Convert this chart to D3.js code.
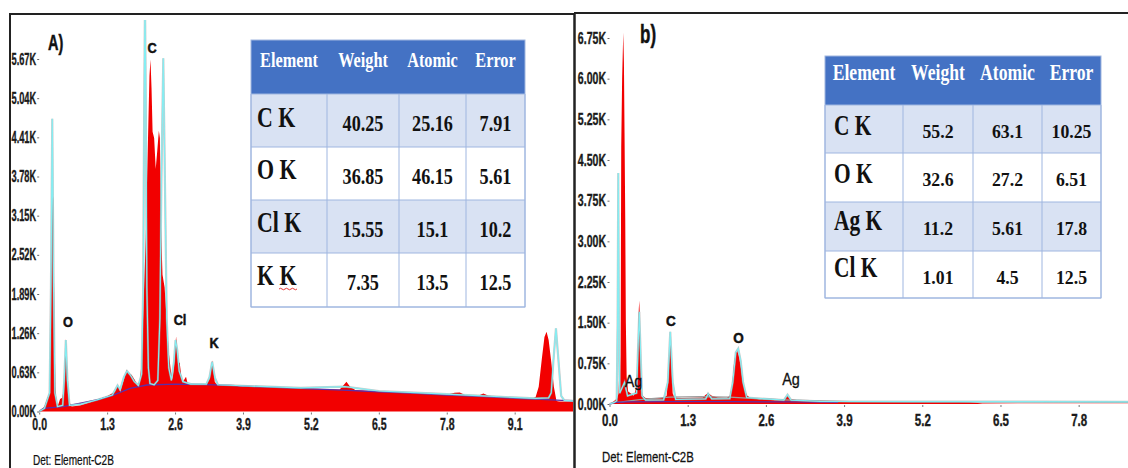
<!DOCTYPE html>
<html><head><meta charset="utf-8">
<script src="https://cdn.jsdelivr.net/npm/d3@7"></script>
<style>
html,body{margin:0;padding:0;background:#fff;}
svg{display:block;}
</style></head><body>
<svg id="c" width="1128" height="468"></svg>
<script>
// ---------------- DATA ----------------
const xTicksA = [0, 1.3, 2.6, 3.9, 5.2, 6.5, 7.8, 9.1];
const xLabelsA = ["0.0","1.3","2.6","3.9","5.2","6.5","7.8","9.1"];
const yTicksA = [0, 630, 1260, 1890, 2520, 3150, 3780, 4410, 5040, 5670];
const yLabelsA = ["0.00K","0.63K","1.26K","1.89K","2.52K","3.15K","3.78K","4.41K","5.04K","5.67K"];

const xTicksB = [0, 1.3, 2.6, 3.9, 5.2, 6.5, 7.8];
const xLabelsB = ["0.0","1.3","2.6","3.9","5.2","6.5","7.8"];
const yTicksB = [0, 750, 1500, 2250, 3000, 3750, 4500, 5250, 6000, 6750];
const yLabelsB = ["0.00K","0.75K","1.50K","2.25K","3.00K","3.75K","4.50K","5.25K","6.00K","6.75K"];

// spectrum A: [energy keV, counts]
const specA = [[0,0],[0.05,30],[0.10,80],[0.15,200],[0.20,300],[0.225,1800],[0.25,3630],[0.27,3400],[0.29,1500],[0.31,400],[0.33,150],[0.36,100],[0.40,200],[0.44,220],[0.47,350],[0.49,800],[0.51,1176],[0.53,800],[0.55,400],[0.58,150],[0.62,80],[0.78,95],[0.95,140],[1.10,185],[1.29,240],[1.45,318],[1.50,426],[1.55,318],[1.63,533],[1.67,667],[1.72,614],[1.77,587],[1.83,506],[1.88,410],[1.93,506],[1.96,800],[2.00,1800],[2.04,2800],[2.08,4300],[2.11,5400],[2.13,5660],[2.15,5200],[2.17,4500],[2.20,4400],[2.23,3900],[2.26,4200],[2.29,4515],[2.31,4400],[2.33,3000],[2.36,2200],[2.40,2000],[2.44,1470],[2.48,950],[2.52,650],[2.55,520],[2.58,700],[2.60,1000],[2.62,1205],[2.64,1000],[2.66,800],[2.69,780],[2.72,560],[2.75,470],[2.78,520],[2.81,560],[2.84,450],[2.90,440],[3.00,430],[3.10,425],[3.20,435],[3.26,520],[3.29,700],[3.31,820],[3.33,700],[3.36,480],[3.40,430],[3.50,420],[3.65,426],[3.90,400],[4.30,395],[4.60,390],[5.00,375],[5.40,360],[5.75,355],[5.82,420],[5.88,480],[5.95,400],[6.05,345],[6.50,318],[7.00,300],[7.50,280],[7.80,268],[7.95,300],[8.05,305],[8.15,265],[8.40,255],[8.50,290],[8.60,255],[8.90,235],[9.20,215],[9.40,200],[9.50,230],[9.56,400],[9.62,850],[9.67,1200],[9.71,1283],[9.75,1150],[9.80,800],[9.85,400],[9.90,170],[9.95,160],[10.25,155]];
// fitted spectrum A (cyan)
const fitA = [[0,0],[0.10,50],[0.20,300],[0.225,2000],[0.25,4710],[0.275,2000],[0.30,300],[0.35,80],[0.45,100],[0.48,500],[0.51,1150],[0.54,500],[0.58,100],[0.80,120],[1.10,185],[1.40,265],[1.50,420],[1.55,350],[1.62,550],[1.68,650],[1.75,580],[1.82,480],[1.90,420],[1.96,600],[1.99,2000],[2.01,5000],[2.025,6600],[2.04,5000],[2.06,2000],[2.09,700],[2.12,450],[2.20,430],[2.27,500],[2.31,1500],[2.34,3800],[2.375,5680],[2.405,3800],[2.44,1500],[2.48,700],[2.53,500],[2.58,800],[2.61,1150],[2.64,1000],[2.68,650],[2.75,480],[2.90,440],[3.20,440],[3.26,550],[3.31,800],[3.36,550],[3.42,430],[4.00,410],[5.00,380],[5.85,400],[6.50,330],[7.50,290],[8.50,250],[9.50,210],[9.75,220],[9.80,300],[9.84,800],[9.89,1337],[9.94,800],[9.99,250],[10.05,180],[10.25,170]];
// background A (purple)
const bgA = [[0,0],[0.08,50],[0.46,77],[1.10,185],[1.42,265],[1.74,373],[2.06,426],[2.60,440],[3.20,432],[3.65,420],[4.30,395],[5.20,365],[5.80,345],[6.50,318],[7.20,292],[7.80,265],[8.50,240],[9.20,208],[9.60,195],[10.00,180],[10.25,172]];

// spectrum B
const specB = [[0,0],[0.06,40],[0.10,80],[0.13,100],[0.15,200],[0.163,600],[0.175,250],[0.185,900],[0.195,4745],[0.21,6000],[0.229,6850],[0.24,6300],[0.25,5000],[0.262,3400],[0.272,1500],[0.285,500],[0.31,230],[0.35,200],[0.40,150],[0.42,200],[0.44,300],[0.46,600],[0.475,1200],[0.487,1750],[0.495,1907],[0.505,1600],[0.515,900],[0.53,300],[0.55,150],[0.60,110],[0.70,100],[0.80,105],[0.90,110],[0.95,150],[0.98,500],[1.00,1000],[1.015,1180],[1.03,700],[1.05,200],[1.08,115],[1.20,110],[1.40,115],[1.55,120],[1.60,170],[1.64,200],[1.70,150],[1.80,120],[1.95,110],[2.00,150],[2.04,350],[2.07,750],[2.10,960],[2.12,996],[2.15,880],[2.18,700],[2.21,450],[2.25,250],[2.29,150],[2.35,110],[2.50,85],[2.60,80],[2.75,70],[2.90,75],[2.95,150],[3.00,90],[3.20,60],[3.50,50],[4.00,45],[4.50,42],[5.00,40],[5.50,38],[5.70,50],[5.80,36],[6.00,30],[6.20,8],[7.00,5],[8.70,4]];
const fitB = [[0,0],[0.08,30],[0.12,60],[0.135,1500],[0.146,4260],[0.157,1500],[0.17,200],[0.25,400],[0.30,150],[0.45,200],[0.495,1700],[0.54,150],[0.60,70],[0.90,75],[0.97,400],[1.01,1333],[1.05,400],[1.10,85],[1.60,95],[1.64,190],[1.70,95],[2.00,100],[2.05,400],[2.10,950],[2.14,1020],[2.18,800],[2.22,400],[2.28,120],[2.90,70],[2.96,170],[3.02,70],[3.50,50],[5.00,45],[7.00,42],[8.70,40]];
const grayB = [[0.10,30],[0.20,40],[0.50,80],[1.00,125],[1.50,135],[2.00,125],[2.50,95],[3.00,70],[4.00,45],[6.00,40],[8.70,35]];
const bgB = [[0,0],[0.10,30],[0.30,40],[1.00,45],[2.00,42],[3.00,38],[3.80,30]];

// peak labels [text, energy, counts]
const peakLabelsA = [["O",0.551,1440],["C",2.159,5847],["Cl",2.695,1472],["K",3.345,1102]];
const peakLabelsB = [["Ag",0.399,424],["C",1.022,1531],["O",2.145,1226],["Ag",3.017,452]];

// tables
const tableHeader = ["Element","Weight","Atomic","Error"];
const tableA = [["C K","40.25","25.16","7.91"],["O K","36.85","46.15","5.61"],["Cl K","15.55","15.1","10.2"],["K K","7.35","13.5","12.5"]];
const tableB = [["C K","55.2","63.1","10.25"],["O K","32.6","27.2","6.51"],["Ag K","11.2","5.61","17.8"],["Cl K","1.01","4.5","12.5"]];

// ---------------- DRAW ----------------
const svg = d3.select("#c");
const defs = svg.append("defs");

const RED = "#f20000", CYAN = "#84eef3", GRAY = "#9c9c9c", PURPLE = "#5b2fa8";
const SANS = "'Liberation Sans', Arial, sans-serif";

function panel(cfg) {
  const x = d3.scaleLinear().domain(cfg.xDom).range(cfg.xRange);
  const y = d3.scaleLinear().domain(cfg.yDom).range(cfg.yRange);
  const clipId = "clip" + cfg.id;
  defs.append("clipPath").attr("id", clipId).append("rect")
    .attr("x", cfg.xRange[0]).attr("y", cfg.plotTop)
    .attr("width", cfg.plotRight - cfg.xRange[0]).attr("height", cfg.yRange[0] - cfg.plotTop + 1);
  const g = svg.append("g");
  const pg = g.append("g").attr("clip-path", `url(#${clipId})`);
  const area = d3.area().x(d => x(d[0])).y0(y(0)).y1(d => y(d[1]));
  const line = d3.line().x(d => x(d[0])).y(d => y(d[1]));
  pg.append("path").datum(cfg.spec).attr("d", area).attr("fill", RED);
  if (cfg.gray) pg.append("path").datum(cfg.gray).attr("d", line).attr("fill","none").attr("stroke", GRAY).attr("stroke-width", 1.3);
  pg.append("path").datum(cfg.bg).attr("d", line).attr("fill","none").attr("stroke", PURPLE).attr("stroke-width", 1.3);
  pg.append("path").datum(cfg.fit).attr("d", line).attr("fill","none").attr("stroke", GRAY).attr("stroke-width", 2.2).attr("stroke-opacity",0.55);
  pg.append("path").datum(cfg.fit).attr("d", line).attr("fill","none").attr("stroke", CYAN).attr("stroke-width", 1.2);

  // y axis
  const ya = g.append("g").attr("transform", `translate(${cfg.xRange[0]},0)`)
    .call(d3.axisLeft(y).tickValues(cfg.yTicks).tickFormat((d,i) => cfg.yLabels[i]).tickSize(2).tickPadding(1));
  ya.select(".domain").remove();
  ya.selectAll("line").attr("stroke", "#666");
  ya.selectAll("text").attr("font-family", SANS)
    .attr("font-size", 16).attr("font-weight", "bold").attr("fill", "#1a1a1a")
    .attr("stroke", "#1a1a1a").attr("stroke-width", 0.35)
    .attr("transform", `scale(${cfg.sx},1)`).attr("x", cfg.yLabX / cfg.sx);
  // x axis
  const xa = g.append("g").attr("transform", `translate(0,${cfg.yRange[0]})`)
    .call(d3.axisBottom(x).tickValues(cfg.xTicks).tickFormat((d,i) => cfg.xLabels[i]).tickSize(2).tickPadding(cfg.xPad));
  xa.select(".domain").remove();
  xa.selectAll("line").attr("stroke", "#777").attr("transform","translate(0,1)");
  xa.selectAll("text").attr("font-family", SANS)
    .attr("font-size", 16).attr("font-weight", "bold").attr("fill", "#1a1a1a")
    .attr("stroke", "#1a1a1a").attr("stroke-width", 0.35)
    .attr("transform", `scale(${cfg.xsx},1)`);

  // peak labels
  cfg.peaks.forEach(p => {
    const bold = p[0] !== "Ag";
    g.append("text").attr("transform", `translate(${x(p[1])},${y(p[2])}) scale(${cfg.lsx},1)`)
      .attr("text-anchor","middle").attr("dy","0.36em")
      .attr("font-family", SANS).attr("font-size", bold ? 15 : 16)
      .attr("font-weight", bold ? "bold" : "normal").attr("fill","#111")
      .attr("stroke", "#111").attr("stroke-width", bold ? 0.5 : 0.3).text(p[0]);
  });
  return {x, y, g};
}

panel({id:"A", xDom:[0,10.25], xRange:[39.2, 39.2 + 10.25*52.25], plotRight:573, plotTop:20,
  yDom:[0,5670], yRange:[411.5,59], spec:specA, fit:fitA, bg:bgA, gray:null,
  yTicks:yTicksA, yLabels:yLabelsA, xTicks:xTicksA, xLabels:xLabelsA, sx:0.58, xsx:0.66, yLabX:-3, xPad:5, lsx:0.85,
  peaks:peakLabelsA});
panel({id:"B", xDom:[0,8.7], xRange:[609.5, 609.5 + 8.7*60.15], plotRight:1128, plotTop:20,
  yDom:[0,6750], yRange:[404,38], spec:specB, fit:fitB, bg:bgB, gray:grayB,
  yTicks:yTicksB, yLabels:yLabelsB, xTicks:xTicksB, xLabels:xLabelsB, sx:0.66, xsx:0.72, yLabX:-3.5, xPad:9, lsx:0.9,
  peaks:peakLabelsB});

// panel frames
const frame = svg.append("g").attr("stroke","#222").attr("fill","none");
frame.append("line").attr("x1",10).attr("y1",14).attr("x2",575).attr("y2",14).attr("stroke-width",2);
frame.append("line").attr("x1",10).attr("y1",13).attr("x2",10).attr("y2",468).attr("stroke-width",2);
frame.append("line").attr("x1",574.5).attr("y1",13).attr("x2",574.5).attr("y2",468).attr("stroke-width",2.5);
frame.append("line").attr("x1",574).attr("y1",13).attr("x2",1128).attr("y2",13).attr("stroke-width",2);

// panel tags and detector captions
function stext(txt, x, y, size, sx, weight, sw) {
  return svg.append("text").attr("transform", `translate(${x},${y}) scale(${sx},1)`)
    .attr("font-family", SANS).attr("font-size", size)
    .attr("font-weight", weight).attr("fill","#111")
    .attr("stroke", "#111").attr("stroke-width", sw).text(txt);
}
stext("A)", 48, 50, 22, 0.66, "bold", 0.5);
stext("b)", 640, 43, 25, 0.68, "bold", 0.5);
stext("Det: Element-C2B", 33, 465, 15, 0.67, "normal", 0.25);
stext("Det: Element-C2B", 602, 462, 15, 0.76, "normal", 0.25);

// tables
function drawTable(rows, G) {
  const t = svg.append("g");
  const [x0, x1, x2, x3, x4] = G.cols;
  const ys = G.rows;
  t.append("rect").attr("x", x0).attr("y", ys[0]).attr("width", x4 - x0).attr("height", ys[1] - ys[0]).attr("fill", "#4472c4");
  rows.forEach((r, i) => {
    t.append("rect").attr("x", x0).attr("y", ys[i+1]).attr("width", x4 - x0).attr("height", ys[i+2] - ys[i+1])
      .attr("fill", i % 2 === 0 ? "#d9e2f3" : "#ffffff");
  });
  const st = "#9fb6e0";
  for (let i = 1; i < ys.length; i++) {
    t.append("line").attr("x1", x0).attr("x2", x4).attr("y1", ys[i]).attr("y2", ys[i]).attr("stroke", st).attr("stroke-width", 1);
  }
  [x0, x1, x2, x3, x4].forEach(xv => {
    t.append("line").attr("x1", xv).attr("x2", xv).attr("y1", ys[1]).attr("y2", ys[ys.length-1]).attr("stroke", st).attr("stroke-width", 1);
  });
  t.append("rect").attr("x", x0).attr("y", ys[0]).attr("width", x4-x0).attr("height", ys[ys.length-1]-ys[0])
    .attr("fill","none").attr("stroke", st).attr("stroke-width", 1);
  const serif = "'Liberation Serif', 'Times New Roman', serif";
  const cx = [(x0+x1)/2, (x1+x2)/2, (x2+x3)/2, (x3+x4)/2];
  tableHeader.forEach((h, j) => {
    t.append("text").attr("transform", `translate(${cx[j]},${ys[0] + G.hBase}) scale(${G.hSx},1)`)
      .attr("text-anchor","middle").attr("font-family", serif).attr("font-weight","bold")
      .attr("font-size", G.hSize).attr("fill","#ffffff").text(h);
  });
  rows.forEach((r, i) => {
    t.append("text").attr("transform", `translate(${x0 + G.lPad},${ys[i+1] + G.lBase[i]}) scale(${G.lSx},1)`)
      .attr("font-family", serif).attr("font-weight","bold").attr("font-size", G.lSize).attr("fill","#111").text(r[0]);
    for (let j = 1; j < 4; j++) {
      t.append("text").attr("transform", `translate(${cx[j]},${ys[i+1] + G.nBase}) scale(${G.nSx},1)`)
        .attr("text-anchor","middle").attr("font-family", serif).attr("font-weight","bold")
        .attr("font-size", G.nSize).attr("fill","#111").text(r[j]);
    }
  });
  return t;
}
const tA = drawTable(tableA, {cols:[251,327,399,466,525], rows:[40,94,147,200,253,307],
  hBase:27, hSize:22, hSx:0.74, lPad:6, lBase:[33,32,32,32], lSize:29, lSx:0.755, nBase:37, nSize:23, nSx:0.79});
// spell-check squiggle under second K of "K K"
tA.append("path").attr("d", "M279,289 q1.5,-1.5 3,0 t3,0 t3,0 t3,0 t3,0 t3,0").attr("fill","none").attr("stroke","#e02020").attr("stroke-width",0.9);
drawTable(tableB, {cols:[825,903,973,1042,1101], rows:[56,105,153,202,251,298],
  hBase:24, hSize:23.5, hSx:0.75, lPad:9, lBase:[30,30,28,26], lSize:28.5, lSx:0.75, nBase:33, nSize:19.7, nSx:0.9});
</script>
</body></html>
